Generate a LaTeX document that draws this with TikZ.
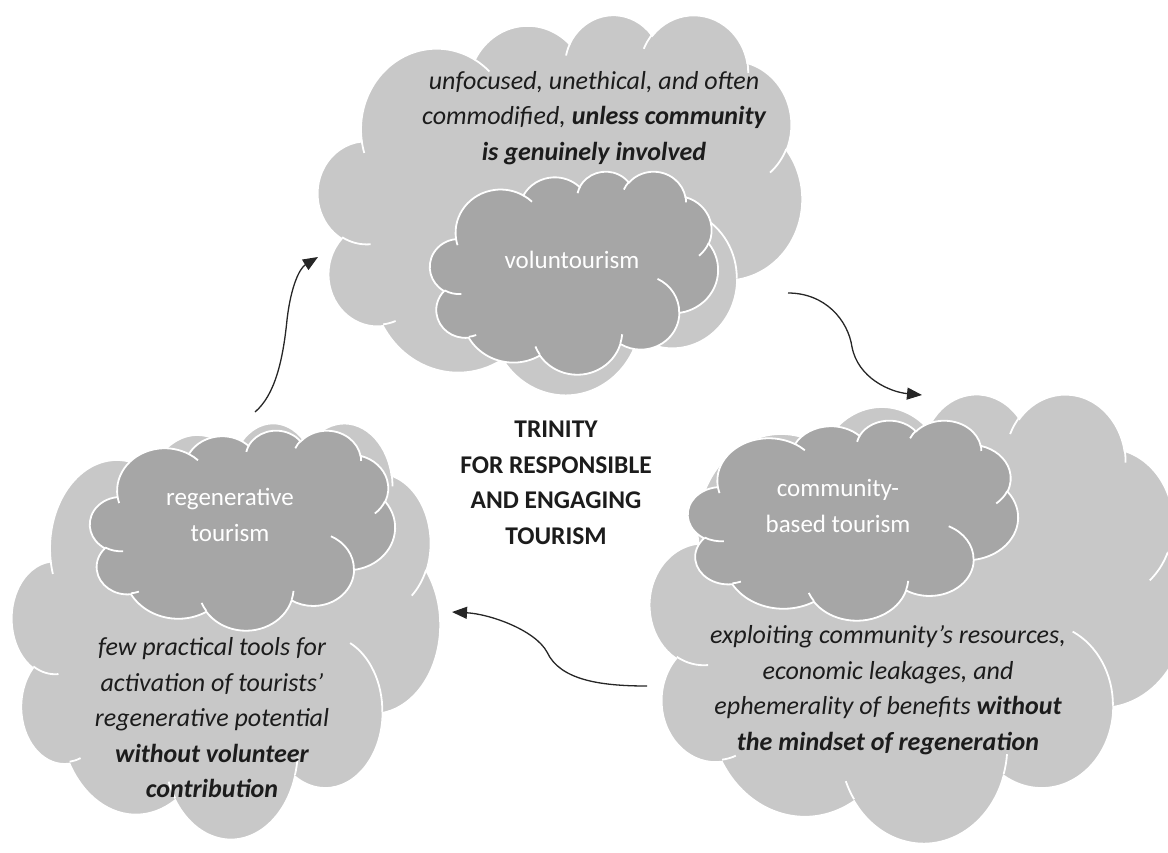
\documentclass[tikz,border=0pt]{standalone}
\usepackage{fontspec}
\setmainfont{Carlito}
\usetikzlibrary{arrows.meta}

\definecolor{cloudlight}{RGB}{200,200,200}
\definecolor{clouddark}{RGB}{166,166,166}
\definecolor{inktext}{RGB}{28,28,28}

% cloud outline on a 432 x 432 grid
\newcommand{\cloudoutline}{(39.00,143.70)
  arc[start angle=172.26, end angle=300.37, x radius=67.53, y radius=91.90]
  arc[start angle=207.98, end angle=314.55, x radius=53.33, y radius=72.67]
  arc[start angle=206.51, end angle=322.71, x radius=43.65, y radius=59.45]
  arc[start angle=220.28, end angle=349.79, x radius=48.57, y radius=65.95]
  arc[start angle=285.23, end angle=383.21, x radius=53.33, y radius=72.73]
  arc[start angle=-37.51, end angle=81.87, x radius=67.75, y radius=92.20]
  arc[start angle=0.46, end angle=121.98, x radius=57.85, y radius=78.67]
  arc[start angle=16.85, end angle=146.23, x radius=67.52, y radius=92.15]
  arc[start angle=58.98, end angle=150.19, x radius=77.20, y radius=105.43]
  arc[start angle=83.30, end angle=223.11, x radius=43.60, y radius=59.18]
  arc[start angle=120.36, end angle=264.11, x radius=43.45, y radius=59.45]
  -- cycle}
% the little inner creases
\newcommand{\cloudcreases}{
  (46.93,261.77) arc[start angle=85.54, end angle=120.36, x radius=43.45, y radius=59.45]
  (69.28,348.99) arc[start angle=68.23, end angle=83.30, x radius=43.60, y radius=59.18]
  (164.78,390.90) arc[start angle=146.23, end angle=158.48, x radius=67.52, y radius=92.15]
  (288.27,347.51) arc[start angle=4.74, end angle=16.85, x radius=67.52, y radius=92.15]
  (341.29,229.54) arc[start angle=-64.03, end angle=0.46, x radius=57.85, y radius=78.67]
  (417.98,153.54) arc[start angle=23.21, end angle=49.64, x radius=53.33, y radius=72.73]
  (383.24,54.26) arc[start angle=-10.21, end angle=0.82, x radius=48.57, y radius=65.95]
  (290.78,39.52) arc[start angle=-156.29, end angle=-139.72, x radius=48.57, y radius=65.95]
  (221.41,47.20) arc[start angle=-167.73, end angle=-153.49, x radius=43.65, y radius=59.45]
  (140.00,51.92) arc[start angle=-59.63, end angle=-45.74, x radius=67.53, y radius=91.90]
  (41.27,157.89) arc[start angle=163.20, end angle=172.26, x radius=67.53, y radius=91.90]}
% #1,#2 top left corner, #3 width, #4 height, #5 style
\newcommand{\drawcloud}[5]{%
  \begin{scope}[shift={(#1,#2)}, xscale=#3/432, yscale=#4/432]
    \filldraw[#5, cloud edge] \cloudoutline;
    \draw[cloud edge] \cloudcreases;
  \end{scope}}

\begin{document}
\begin{tikzpicture}[x=1pt, y=-1pt,
outer cloud/.style={fill=cloudlight},
inner cloud/.style={fill=clouddark},
cloud edge/.style={draw=white, line width=1.8pt},
note/.style={align=center, text=inktext,
             font=\fontsize{26}{35.5}\selectfont\itshape},
tag text/.style={align=center, text=white,
             font=\fontsize{25}{36}\selectfont},
centre title/.style={align=center, text=inktext,
             font=\fontsize{25.5}{35.5}\selectfont\bfseries},
link/.style={-{Triangle[length=15pt,width=12pt]}, line width=1.3pt, black!85}
]
\useasboundingbox (0,0) rectangle (1168,852);

\drawcloud{318}{14}{484}{380}{outer cloud}
\drawcloud{650}{393}{535}{449}{outer cloud}
\drawcloud{12}{422}{428}{416}{outer cloud}

\drawcloud{430}{171}{288}{203}{inner cloud}
\drawcloud{688}{420}{330}{200}{inner cloud}
\drawcloud{90}{430}{305}{200}{inner cloud}

\node[tag text] (volun) at (572,260) {voluntourism};
\node[tag text] (cbt) at (838,506) {community-\\based tourism};
\node[tag text] (regen) at (230,515) {regenerative\\tourism};

\node[note] (top note) at (594,118) {unfocused, unethical, and often\\
  commodified, \textbf{unless community}\\ \textbf{is genuinely involved}};
\node[note] (right note) at (888,690) {exploiting community’s resources,\\
  economic leakages, and\\ ephemerality of benefits \textbf{without}\\
  \textbf{the mindset of regeneration}};
\node[note] (left note) at (212,718) {few practical tools for\\
  activation of tourists’\\ regenerative potential\\
  \textbf{without volunteer}\\ \textbf{contribution}};

\node[centre title] (trinity) at (556,483) {TRINITY\\FOR RESPONSIBLE\\AND ENGAGING\\TOURISM};

\coordinate (regen out) at (255,412);
\coordinate (volun in) at (318,257);
\coordinate (volun out) at (788,293);
\coordinate (cbt in) at (922,395);
\coordinate (cbt out) at (647,686);
\coordinate (regen in) at (452,612);

\draw[link] (regen out) .. controls (275,395) and (283,360) .. (287,320)
  .. controls (291,285) and (300,268) .. (volun in);
\draw[link] (volun out) .. controls (825,293) and (848,320) .. (852,347)
  .. controls (858,378) and (890,392) .. (cbt in);
\draw[link] (cbt out) .. controls (600,686) and (560,680) .. (547,652)
  .. controls (535,630) and (490,614) .. (regen in);

\end{tikzpicture}
\end{document}
